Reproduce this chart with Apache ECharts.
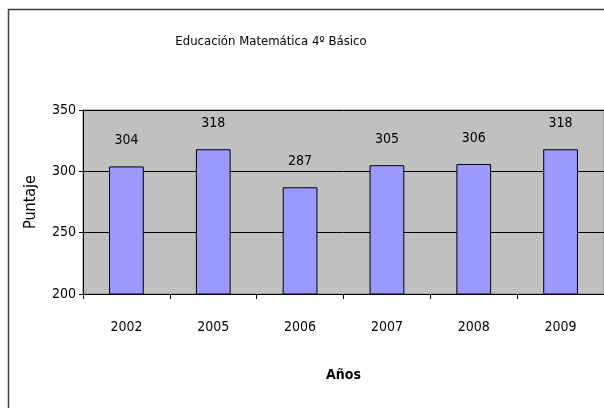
<!DOCTYPE html>
<html><head><meta charset="utf-8">
<script src="https://cdn.jsdelivr.net/npm/echarts@6/dist/echarts.min.js"></script>
<style>html,body{margin:0;padding:0;background:#fff}#c{width:604px;height:408px}</style>
</head><body><div id="c"></div>
<script>
const categories = ['2002','2005','2006','2007','2008','2009'];
const values = [304, 318, 287, 305, 306, 318];
const yTicks = [200, 250, 300, 350];
const titleText = 'Educación Matemática 4º Básico';
const xName = 'Años';
const yName = 'Puntaje';

const F = '"DejaVu Sans Condensed", sans-serif';
const chart = echarts.init(document.getElementById('c'), null, {renderer:'canvas'});
chart.setOption({
  animation:false,
  backgroundColor:'#fff',
  graphic:[
    {type:'rect', shape:{x:8.5, y:9.5, width:640, height:440}, style:{fill:null, stroke:'#404040', lineWidth:1.5}, z:-1},
    {type:'text', x:271, y:42, style:{text:titleText, textAlign:'center', textVerticalAlign:'middle', font:'13px ' + F, fill:'#000'}}
  ],
  grid:{left:83, top:110, width:525, height:184, show:true, backgroundColor:'#c0c0c0', borderColor:'#808080', borderWidth:1},
  xAxis:{type:'category', data:categories, name:xName, nameLocation:'middle', nameGap:74,
    nameTextStyle:{fontFamily:F, fontSize:14, fontWeight:'bold', color:'#000'},
    axisLine:{lineStyle:{color:'#000', width:1}},
    axisTick:{show:true, alignWithLabel:false, length:5, lineStyle:{color:'#000'}},
    axisLabel:{margin:26, fontFamily:F, fontSize:14, color:'#000'}},
  yAxis:{type:'value', min:yTicks[0], max:yTicks[yTicks.length-1], interval:50, name:yName, nameLocation:'middle', nameGap:44,
    nameTextStyle:{fontFamily:F, fontSize:16, color:'#000'},
    axisLine:{show:true, lineStyle:{color:'#000'}},
    axisTick:{show:true, length:4, lineStyle:{color:'#000'}},
    axisLabel:{margin:7, fontFamily:F, fontSize:14, color:'#000'},
    splitLine:{show:true, lineStyle:{color:'#000', width:1}}},
  series:[{type:'bar', data:values, barWidth:'40%',
    itemStyle:{color:'#9999ff', borderColor:'#000', borderWidth:1},
    label:{show:true, position:'top', distance:19, fontFamily:F, fontSize:14, color:'#000'}}]
});
</script></body></html>
